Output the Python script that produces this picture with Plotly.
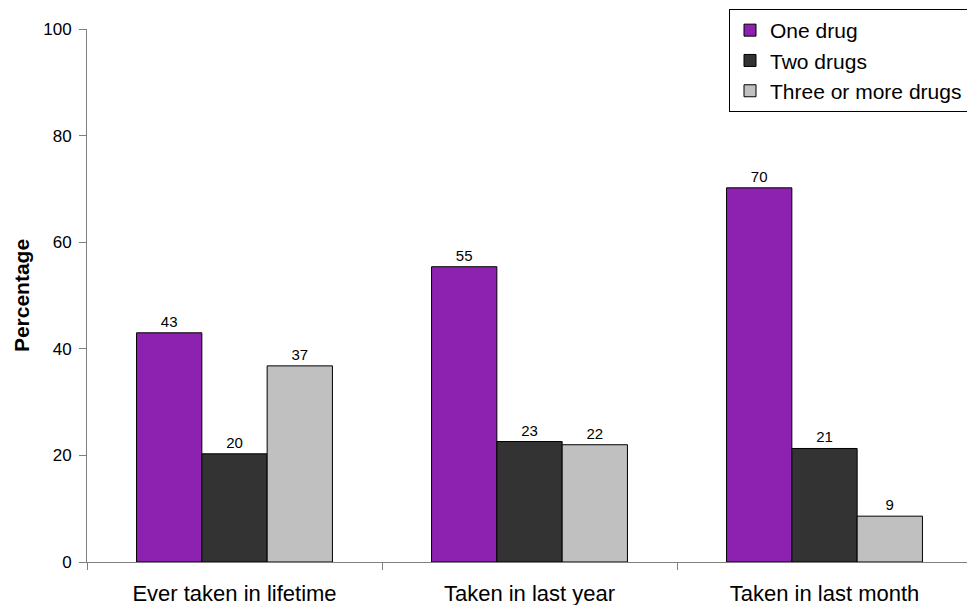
import plotly.graph_objects as go

categories = ["Ever taken in lifetime", "Taken in last year", "Taken in last month"]
series_names = ["One drug", "Two drugs", "Three or more drugs"]
one_drug = [43.0, 55.4, 70.2]
two_drugs = [20.3, 22.6, 21.3]
three_plus = [36.8, 22.0, 8.6]
colors = ["#8E22B0", "#333333", "#C0C0C0"]
y_ticks = [0, 20, 40, 60, 80, 100]

FONT = "Arial, 'Liberation Sans', sans-serif"

fig = go.Figure()
for i, (name, vals, col) in enumerate(zip(series_names, [one_drug, two_drugs, three_plus], colors)):
    fig.add_trace(go.Bar(
        x=categories, y=vals, name=name,
        marker=dict(color=col, line=dict(color="#000000", width=1)),
        texttemplate="%{y:.0f}", textposition="outside", cliponaxis=False,
        textfont=dict(size=15, color="#000000", family=FONT),
    ))

W, H = 967, 605
left, right_px, top, bottom = 87, 967, 29, 562
cat_w = 295.0
x_lo = -0.5
x_hi = -0.5 + (right_px - left) / cat_w

fig.update_layout(
    width=W, height=H,
    margin=dict(l=left, r=W - right_px, t=top, b=H - bottom, autoexpand=False),
    paper_bgcolor="white", plot_bgcolor="white",
    barmode="group", bargap=0.336, bargroupgap=0,
    font=dict(family=FONT, size=16, color="#000000"),
    showlegend=True,
    legend=dict(
        x=(729 - left) / (right_px - left), xanchor="left",
        y=1 + (top - 9) / (bottom - top), yanchor="top",
        bgcolor="white", bordercolor="#000000", borderwidth=1,
        font=dict(size=21, family=FONT, color="#000000"),
        traceorder="normal", itemwidth=30,
    ),
    xaxis=dict(
        range=[x_lo, x_hi], showline=True, linecolor="#808080", linewidth=1,
        ticks="outside", tickson="boundaries", ticklen=7, tickcolor="#808080",
        tickfont=dict(size=22, family=FONT, color="#000000"),
        ticklabelstandoff=12, showgrid=False, zeroline=False, fixedrange=True,
    ),
    yaxis=dict(
        range=[0, 100], tickvals=y_ticks, showline=True, linecolor="#808080", linewidth=1,
        ticks="outside", ticklen=7, tickcolor="#808080",
        tickfont=dict(size=17, family=FONT, color="#000000"),
        ticklabelstandoff=4,
        showgrid=False, zeroline=False,
        title=dict(text="<b>Percentage</b>", font=dict(size=21, family=FONT, color="#000000"), standoff=7),
    ),
)

fig.write_html(
    "out.html",
    config={"displayModeBar": False},
    post_script="document.body.style.margin='0';document.body.style.overflow='hidden';",
)
